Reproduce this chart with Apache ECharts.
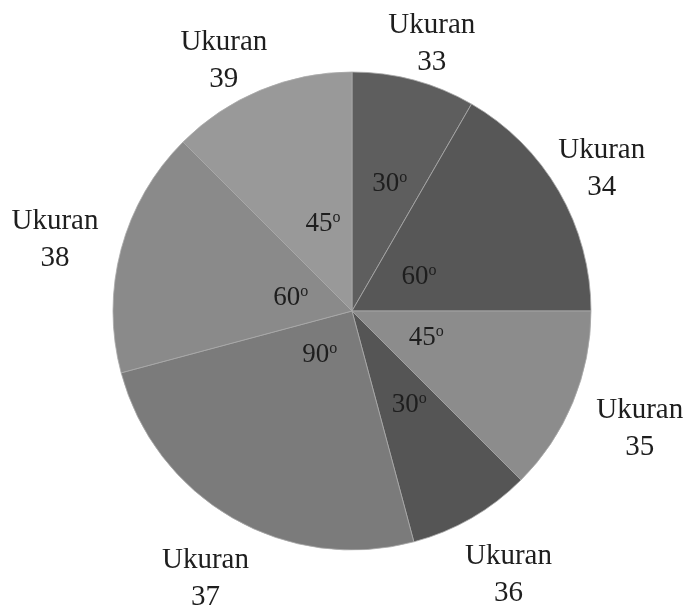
<!DOCTYPE html>
<html>
<head>
<meta charset="utf-8">
<script src="https://cdn.jsdelivr.net/npm/echarts@6/dist/echarts.min.js"></script>
<style>
html,body{margin:0;padding:0;background:#fff;}
#chart{width:683px;height:606px;}
</style>
</head>
<body>
<div id="chart"></div>
<script>
// Data
const sizes = ['33', '34', '35', '36', '37', '38', '39'];
const degrees = [30, 60, 45, 30, 90, 60, 45];
const sliceColors = ['#5e5e5e', '#575757', '#8c8c8c', '#555555', '#7b7b7b', '#8a8a8a', '#999999'];
const namePrefix = 'Ukuran';

// label nudges (pixels) relative to library default placement
const innerNudge = [[6, -9], [-39, 27], [-39, -20], [-4, -12], [29, -62], [57, 19], [18, 26]];
const outerNudge = [[4, 16], [-4, 4], [17, 6], [10, 10], [0, 14], [-14, 5], [-16, 21]];

const pieData = sizes.map((s, i) => ({ name: s, value: degrees[i], itemStyle: { color: sliceColors[i] } }));
const ghostData = sizes.map((s, i) => ({ name: s, value: degrees[i] }));

const chart = echarts.init(document.getElementById('chart'), null, { renderer: 'canvas' });
chart.setOption({
  backgroundColor: '#ffffff',
  animation: false,
  series: [
    {
      type: 'pie',
      center: [352, 311],
      radius: [0, 239],
      startAngle: 90,
      clockwise: true,
      silent: true,
      data: pieData,
      itemStyle: { borderColor: '#a9a9a9', borderWidth: 0.8 },
      label: {
        show: true,
        position: 'inside',
        rotate: 0,
        formatter: p => '{n|' + p.value + '}{o|o}',
        rich: {
          n: { fontFamily: 'Liberation Serif', fontSize: 27, color: '#1e1e1e', lineHeight: 28, verticalAlign: 'middle' },
          o: { fontFamily: 'Liberation Serif', fontSize: 16, color: '#1e1e1e', lineHeight: 16, verticalAlign: 'top' }
        }
      },
      labelLine: { show: false },
      labelLayout: p => ({ dx: innerNudge[p.dataIndex][0], dy: innerNudge[p.dataIndex][1] })
    },
    {
      type: 'pie',
      center: [352, 311],
      radius: [280, 300],
      startAngle: 90,
      clockwise: true,
      silent: true,
      data: ghostData,
      itemStyle: { color: 'rgba(0,0,0,0)', borderWidth: 0 },
      label: {
        show: true,
        position: 'inside',
        rotate: 0,
        formatter: p => namePrefix + '\n' + p.name,
        fontFamily: 'Liberation Serif',
        fontSize: 29,
        lineHeight: 37,
        color: '#1e1e1e',
        align: 'center'
      },
      labelLine: { show: false },
      labelLayout: p => ({ dx: outerNudge[p.dataIndex][0], dy: outerNudge[p.dataIndex][1] })
    }
  ]
});
</script>
</body>
</html>
